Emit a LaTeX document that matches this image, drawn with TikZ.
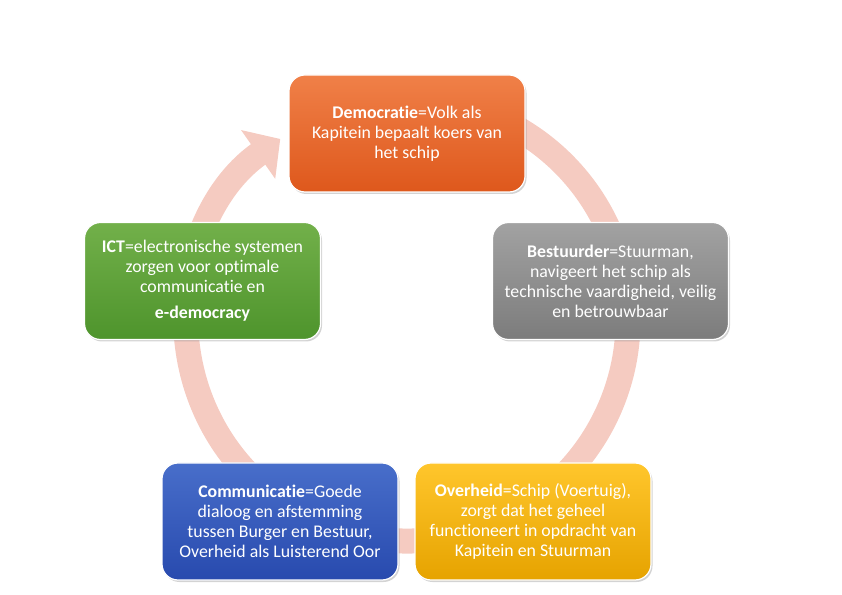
\documentclass[tikz,border=0pt]{standalone}
\usepackage{fontspec}
\setmainfont{Carlito}[Ligatures=NoCommon]
\usetikzlibrary{arrows.meta,shadows}

\definecolor{ringkleur}{RGB}{245,203,193}
\definecolor{oranjeboven}{RGB}{240,128,72}
\definecolor{oranjeonder}{RGB}{222,88,28}
\definecolor{grijsboven}{RGB}{162,162,162}
\definecolor{grijsonder}{RGB}{124,124,124}
\definecolor{goudboven}{RGB}{255,198,44}
\definecolor{goudonder}{RGB}{230,163,0}
\definecolor{blauwboven}{RGB}{72,110,202}
\definecolor{blauwonder}{RGB}{40,74,174}
\definecolor{groenboven}{RGB}{114,176,74}
\definecolor{groenonder}{RGB}{78,148,44}

\begin{document}
\begin{tikzpicture}[x=1pt,y=1pt,
  blok/.style={rounded corners=16pt, draw=white, line width=1.2pt,
    minimum width=236pt, minimum height=117pt, inner sep=3pt,
    align=center, text=white, font=\fontsize{17.8}{20}\selectfont,
    drop shadow={shadow xshift=1.5pt, shadow yshift=-2pt, opacity=0.35}},
  ]
  \useasboundingbox (0,0) rectangle (842,594);

  % ring met pijl
  \coordinate (midden) at (407,274);
  \draw[ringkleur, line width=25pt, -{Triangle[width=58pt,length=27pt]}]
    (midden) ++(110:221) arc[start angle=110, end angle=-235, radius=221];

  % blokken
  \node[blok, top color=oranjeboven, bottom color=oranjeonder] (democratie) at (407,460.5)
    {\textbf{Democratie}=Volk als\\Kapitein bepaalt koers van\\het schip};
  \node[blok, top color=grijsboven, bottom color=grijsonder] (bestuurder) at (610.5,313)
    {\textbf{Bestuurder}=Stuurman,\\navigeert het schip als\\technische vaardigheid, veilig\\en betrouwbaar};
  \node[blok, top color=goudboven, bottom color=goudonder] (overheid) at (533,72.5)
    {\textbf{Overheid}=Schip (Voertuig),\\zorgt dat het geheel\\functioneert in opdracht van\\Kapitein en Stuurman};
  \node[blok, top color=blauwboven, bottom color=blauwonder] (communicatie) at (280,72.5)
    {\textbf{Communicatie}=Goede\\dialoog en afstemming\\tussen Burger en Bestuur,\\Overheid als Luisterend Oor};
  \node[blok, top color=groenboven, bottom color=groenonder] (ict) at (202.5,313)
    {\textbf{ICT}=electronische systemen\\zorgen voor optimale\\communicatie en\\[6pt]\textbf{e-democracy}};

\end{tikzpicture}
\end{document}
